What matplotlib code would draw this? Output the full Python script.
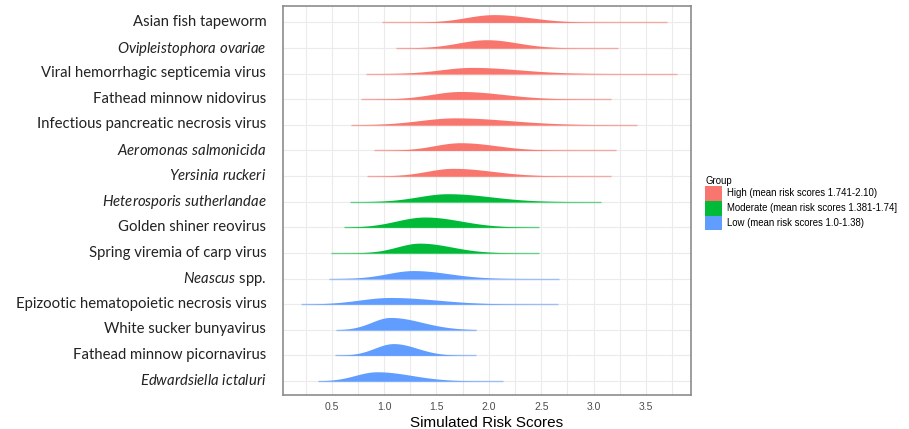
import numpy as np
import matplotlib
matplotlib.use("Agg")
import matplotlib.pyplot as plt
from matplotlib.patches import Patch

plt.rcParams['mathtext.fontset'] = 'custom'
plt.rcParams['mathtext.rm'] = 'Lato'
plt.rcParams['mathtext.it'] = 'Lato:italic'

# ridges, top to bottom
labels = [
    "Asian fish tapeworm",
    r"$\mathit{Ovipleistophora\ ovariae}$",
    "Viral hemorrhagic septicemia virus",
    "Fathead minnow nidovirus",
    "Infectious pancreatic necrosis virus",
    r"$\mathit{Aeromonas\ salmonicida}$",
    r"$\mathit{Yersinia\ ruckeri}$",
    r"$\mathit{Heterosporis\ sutherlandae}$",
    "Golden shiner reovirus",
    "Spring viremia of carp virus",
    r"$\mathit{Neascus}$ spp.",
    "Epizootic hematopoietic necrosis virus",
    "White sucker bunyavirus",
    "Fathead minnow picornavirus",
    r"$\mathit{Edwardsiella\ ictaluri}$",
]
groups = ["High"] * 7 + ["Moderate"] * 3 + ["Low"] * 5
# simulated score range (min / max), mode and visible spread of each ridge
score_min = [0.98, 1.11, 0.83, 0.78, 0.68, 0.90, 0.84, 0.67, 0.62, 0.49, 0.47, 0.21, 0.54, 0.53, 0.37]
score_max = [3.70, 3.23, 3.80, 3.17, 3.41, 3.21, 3.17, 3.07, 2.48, 2.48, 2.67, 2.66, 1.88, 1.88, 2.14]
score_mode = [2.05, 1.98, 1.84, 1.73, 1.68, 1.73, 1.66, 1.61, 1.39, 1.34, 1.28, 1.06, 1.06, 1.09, 0.93]
spread_lo = [1.38, 1.31, 1.10, 1.03, 0.83, 1.10, 1.03, 0.90, 0.71, 0.80, 0.66, 0.32, 0.61, 0.64, 0.42]
spread_hi = [2.90, 2.71, 2.95, 2.76, 2.97, 2.59, 2.60, 2.63, 2.25, 2.10, 2.12, 2.17, 1.81, 1.65, 1.76]
peak_height = [0.30, 0.32, 0.24, 0.30, 0.27, 0.30, 0.30, 0.31, 0.40, 0.38, 0.31, 0.26, 0.48, 0.46, 0.36]

group_colors = {"High": "#F8766D", "Moderate": "#00BA38", "Low": "#619CFF"}
legend_labels = {
    "High": "High (mean risk scores 1.741-2.10)",
    "Moderate": "Moderate (mean risk scores 1.381-1.74]",
    "Low": "Low (mean risk scores 1.0-1.38)",
}

fig = plt.figure(figsize=(9.09, 4.29), dpi=100)
ax = fig.add_axes([283 / 909, 1 - 395 / 429, 408 / 909, 389 / 429])

n = len(labels)
ypos = np.arange(n, 0, -1)

for i in range(n):
    col = group_colors[groups[i]]
    y0 = ypos[i]
    ax.plot([score_min[i], score_max[i]], [y0, y0], color=col, lw=1.0, alpha=0.55,
            solid_capstyle='butt', zorder=3)
    x = np.linspace(score_min[i], score_max[i], 400)
    sl = (score_mode[i] - spread_lo[i]) / 2.5
    sr = (spread_hi[i] - score_mode[i]) / 2.5
    sd = np.where(x < score_mode[i], sl, sr)
    h = peak_height[i] * np.exp(-0.5 * ((x - score_mode[i]) / sd) ** 2)
    ax.fill_between(x, y0, y0 + h, color=col, lw=0, zorder=4)

ax.set_xlim(0.035, 3.93)
ax.set_ylim(0.4535, 15.636)
ax.set_xticks([0.5, 1.0, 1.5, 2.0, 2.5, 3.0, 3.5])
ax.set_xticks(np.arange(0.25, 3.9, 0.25), minor=True)
ax.set_yticks(ypos + 0.07)
ax.set_yticklabels(labels, fontsize=10.7, family='Lato', color='#222222')
ax.tick_params(axis='y', length=0, pad=12)
ax.tick_params(axis='x', which='both', length=0, labelsize=7.5, labelcolor='#4d4d4d', pad=5)
for t in ax.get_xticklabels():
    t.set_family('Liberation Sans')
ax.grid(True, which='both', axis='x', color='#ebebeb', lw=0.8, zorder=0)
for y0 in ypos:
    ax.axhline(y0, color='#ebebeb', lw=0.8, zorder=0)
ax.set_axisbelow(True)
for s in ax.spines.values():
    s.set_color('#8c8c8c')
    s.set_linewidth(1.2)
ax.set_xlabel("Simulated Risk Scores", fontsize=11, family='Liberation Sans', labelpad=3)

handles = [Patch(facecolor=group_colors[g], edgecolor='none', label=legend_labels[g])
           for g in ["High", "Moderate", "Low"]]
leg = fig.legend(handles=handles, title="Group", loc='upper left',
                 bbox_to_anchor=(705 / 909, 1 - 176 / 429), frameon=False,
                 prop={'family': 'Liberation Sans', 'size': 6.9},
                 title_fontproperties={'family': 'Liberation Sans', 'size': 6.9},
                 handlelength=1.75, handleheight=2.0, handletextpad=0.5,
                 labelspacing=0.0, borderaxespad=0, borderpad=0)
leg._legend_box.align = "left"

fig.savefig("out.png", dpi=100)
